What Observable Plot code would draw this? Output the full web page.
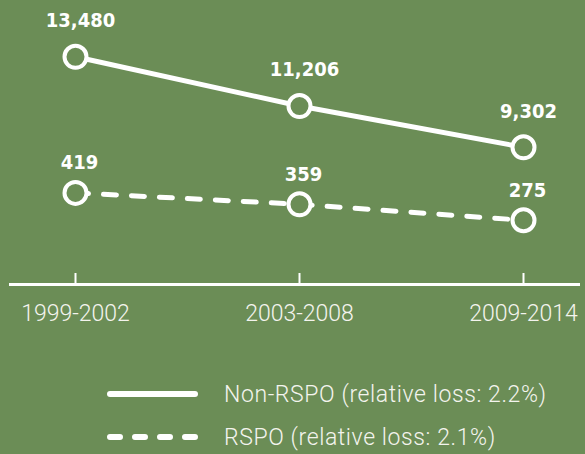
<!DOCTYPE html>
<html>
<head>
<meta charset="utf-8">
<script src="https://cdn.jsdelivr.net/npm/d3@7"></script>
<script src="https://cdn.jsdelivr.net/npm/@observablehq/plot@0.6"></script>
<style>
  html, body { margin: 0; padding: 0; background: #6b8d56; }
  body { width: 585px; height: 454px; position: relative; overflow: hidden;
         font-family: Roboto, "DejaVu Sans", sans-serif; font-weight: 300; color: #fff; }
  #chart { position: absolute; left: 0; top: 0; }
  .leg { position: absolute; left: 104px; display: flex; align-items: center; font-size: 23px; letter-spacing: 0.6px; color: #f4f4ee; }
  .leg svg { margin-right: 22px; }
</style>
</head>
<body>
<div id="chart"></div>
<div id="legend"></div>
<script>
const periods = ["1999-2002", "2003-2008", "2009-2014"];
const nonRspo = [13480, 11206, 9302];
const rspo = [419, 359, 275];
const seriesNames = ["Non-RSPO (relative loss: 2.2%)", "RSPO (relative loss: 2.1%)"];

const bg = "#6b8d56";
const fmt = d3.format(",");
const rowsA = periods.map((p, i) => ({period: p, value: nonRspo[i]}));
const rowsB = periods.map((p, i) => ({period: p, value: rspo[i]}));

const H = 340;
const base = 284;
const plot = Plot.plot({
  width: 585,
  height: H,
  marginLeft: 10,
  marginRight: 7,
  marginTop: 0,
  marginBottom: H - base,
  style: {background: "transparent", color: "#fff", fontFamily: "Roboto, 'DejaVu Sans', sans-serif", fontSize: "23px", fontWeight: 300},
  x: {type: "point", domain: periods, range: [74, 523], padding: 0},
  y: {type: "linear", domain: [200, 500, 8000, 14000], range: [234, 177, 175, 45], axis: null},
  marks: [
    Plot.frame({anchor: "bottom", stroke: "#fff", strokeWidth: 3}),
    Plot.tickX(periods, {x: d => d, stroke: "#fff", strokeWidth: 2, insetTop: base - 11}),
    Plot.axisX({tickSize: 0, tickPadding: 20, fill: "#f4f4ee", label: null}),
    Plot.line(rowsA, {x: "period", y: "value", stroke: "#fff", strokeWidth: 5}),
    Plot.line(rowsB, {x: "period", y: "value", stroke: "#fff", strokeWidth: 5, strokeDasharray: "13,15", strokeLinecap: "round"}),
    Plot.dot(rowsA, {x: "period", y: "value", r: 11, fill: bg, stroke: "#fff", strokeWidth: 4}),
    Plot.dot(rowsB, {x: "period", y: "value", r: 11, fill: bg, stroke: "#fff", strokeWidth: 4}),
    Plot.text(rowsA, {x: "period", y: "value", text: d => fmt(d.value), dx: 5, dy: -36, fill: "#fff", fontWeight: "bold", fontSize: 20, fontFamily: "'DejaVu Sans Condensed', 'DejaVu Sans', sans-serif"}),
    Plot.text(rowsB, {x: "period", y: "value", text: d => fmt(d.value), dx: 4, dy: -30, fill: "#fff", fontWeight: "bold", fontSize: 20, fontFamily: "'DejaVu Sans Condensed', 'DejaVu Sans', sans-serif"})
  ]
});
document.getElementById("chart").append(plot);

const legend = document.getElementById("legend");
const styles = [null, "10,15"];
const ys = [394, 437];
seriesNames.forEach((name, i) => {
  const row = document.createElement("div");
  row.className = "leg";
  row.style.top = (ys[i] - 15) + "px";
  row.style.height = "30px";
  const dash = styles[i] ? `stroke-dasharray="${styles[i]}"` : "";
  row.innerHTML = `<svg width="98" height="10"><line x1="6" x2="91" y1="5" y2="5" stroke="#fff" stroke-width="6" stroke-linecap="round" ${dash}/></svg><span>${name}</span>`;
  legend.append(row);
});
</script>
</body>
</html>
